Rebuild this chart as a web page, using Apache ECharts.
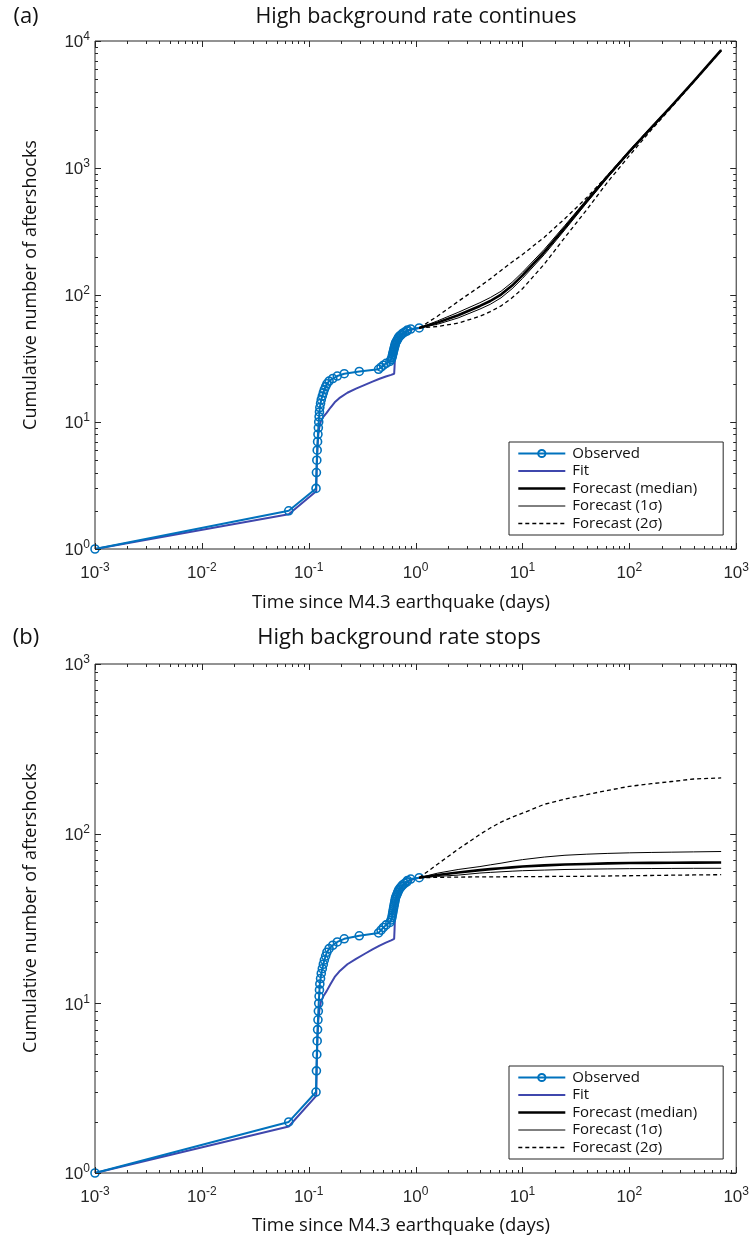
<!DOCTYPE html>
<html><head><meta charset="utf-8">
<script src="https://cdn.jsdelivr.net/npm/echarts@6/dist/echarts.min.js"></script>
<style>
html,body{margin:0;padding:0;background:#fff;}
#pa{position:absolute;left:0;top:0;width:752px;height:620px;}
#pb{position:absolute;left:0;top:620px;width:752px;height:619px;}
</style>
</head><body>
<div id="pa"></div><div id="pb"></div>
<script>
// ---------- tick labels ----------
const xTicks  = [0.001, 0.01, 0.1, 1, 10, 100, 1000];
const yTicksA = [1, 10, 100, 1000, 10000];
const yTicksB = [1, 10, 100, 1000];

// ---------- observed aftershocks (days, cumulative count) ----------
const obsT = [0.001, 0.065, 0.117, 0.118, 0.119, 0.120, 0.121, 0.122, 0.123, 0.124,
              0.125, 0.126, 0.127, 0.129, 0.131, 0.134, 0.137, 0.140, 0.144, 0.148,
              0.155, 0.168, 0.185, 0.215, 0.297, 0.450, 0.475, 0.500, 0.530, 0.575,
              0.590, 0.600, 0.605, 0.610, 0.615, 0.620, 0.625, 0.630, 0.635, 0.640,
              0.645, 0.650, 0.660, 0.670, 0.680, 0.690, 0.700, 0.720, 0.740, 0.760,
              0.790, 0.830, 0.840, 0.900, 1.080];
const obsN = [1, 2, 3, 4, 5, 6, 7, 8, 9, 10,
              11, 12, 13, 14, 15, 16, 17, 18, 19, 20,
              21, 22, 23, 24, 25, 26, 27, 28, 29, 30,
              31, 32, 33, 34, 35, 36, 37, 38, 39, 40,
              41, 42, 43, 44, 45, 46, 47, 48, 49, 50,
              51, 52, 53, 54, 55];

// ---------- model fit ----------
const fitT = [0.001, 0.065, 0.1175, 0.119, 0.121, 0.123, 0.126, 0.130, 0.137, 0.147,
              0.160, 0.175, 0.193, 0.230, 0.277, 0.335, 0.395, 0.460, 0.527, 0.590,
              0.630, 0.635, 0.640, 0.645, 0.650, 0.660, 0.680, 0.720, 0.780, 0.860,
              0.950, 1.080];
const fitN = [1, 1.88, 2.85, 4.5, 6.5, 8, 9.2, 10.2, 11.0, 11.8,
              13.0, 14.3, 15.4, 17.0, 18.3, 19.6, 20.8, 21.9, 22.8, 23.5,
              24.0, 27, 31, 35, 38, 41, 44, 47, 50, 52.5,
              54, 55];

// ---------- forecasts ----------
const fcT = [1.08, 1.6, 2.5, 4, 5, 6.3, 8, 10, 16, 25, 40, 63, 100, 160, 250, 400, 723];
// (a) high background rate continues
const medA = [55, 60.6, 69.3, 82, 89.7, 100.7, 118.6, 142.6, 218, 340, 550, 865, 1343, 2070, 3097, 4800, 8480];
const s1uA = [55, 62.5, 73, 87, 95.5, 107, 126, 151, 229, 354, 567, 885, 1368, 2100, 3130, 4840, 8540];
const s1lA = [55, 58.8, 66, 77.5, 84.5, 95, 112, 135, 208, 327, 533, 845, 1318, 2040, 3065, 4760, 8420];
const s2uA = [55, 68, 89, 117, 134, 156, 182, 208, 285, 400, 585, 880, 1360, 2085, 3110, 4820, 8500];
const s2lA = [55, 56.5, 60, 68, 74, 82, 95, 112, 175, 285, 470, 780, 1250, 1990, 3020, 4740, 8400];
// (b) high background rate stops
const medB = [55, 57, 59, 61, 61.8, 62.5, 63.3, 64, 65, 65.8, 66.3, 66.8, 67.1, 67.3, 67.4, 67.5, 67.6];
const s1uB = [55, 58.5, 61.5, 64, 65.5, 67, 68.8, 70.3, 72.8, 74.6, 75.7, 76.5, 77.1, 77.5, 77.8, 78.1, 78.5];
const s1lB = [55, 56, 57, 58.6, 59.1, 59.6, 60.1, 60.5, 61, 61.5, 61.8, 62, 62.2, 62.3, 62.4, 62.5, 62.5];
const s2uB = [55, 66, 81, 99, 108, 117, 125, 132, 149, 160, 170, 180, 190, 197, 203, 210, 213];
const s2lB = [55, 55.3, 55.5, 55.6, 55.65, 55.7, 55.75, 55.8, 55.9, 56, 56.1, 56.3, 56.5, 56.7, 56.9, 57.1, 57.3];

const names = ['Observed', 'Fit', 'Forecast (median)', 'Forecast (1\u03c3)', 'Forecast (2\u03c3)'];

// ---------- helpers ----------
const AX = '#262626';
const TXT = '"Open Sans", "Noto Sans", sans-serif';
const LW = { obs: 2, fit: 2, med: 2.6, s1: 1, s2: 1.3 };
function zip(a, b) { return a.map((v, i) => [v, b[i]]); }
function minorOf(majors) {
  const out = [];
  for (let i = 0; i < majors.length - 1; i++)
    for (let k = 2; k <= 9; k++) out.push(+(majors[i] * k).toPrecision(6));
  return out;
}
function powLabel(v) {
  const e = Math.round(Math.log10(v));
  return '{b|10}{s|' + e + '}';
}
const labelRich = {
  b: { fontFamily: 'Liberation Sans', fontSize: 17, color: AX, verticalAlign: 'bottom', lineHeight: 20 },
  s: { fontFamily: 'Liberation Sans', fontSize: 12, color: AX, verticalAlign: 'top', padding: [0, 0, 8, 0] }
};
function tickSeries(axis, values, len, ext) {
  return {
    type: 'custom', silent: true, clip: false, z: 6, xAxisIndex: 0, yAxisIndex: 0,
    data: values.map(v => axis === 'x' ? [v, ext[0]] : [ext[0], v]),
    renderItem: function (params, api) {
      const st = { stroke: AX, lineWidth: 1 };
      if (axis === 'x') {
        const v = api.value(0);
        const p1 = api.coord([v, ext[0]]), p2 = api.coord([v, ext[1]]);
        const x = Math.round(p1[0]) + 0.5;
        return { type: 'group', children: [
          { type: 'line', shape: { x1: x, y1: p1[1], x2: x, y2: p1[1] - len }, style: st },
          { type: 'line', shape: { x1: x, y1: p2[1], x2: x, y2: p2[1] + len }, style: st }
        ] };
      } else {
        const v = api.value(1);
        const p1 = api.coord([ext[0], v]), p2 = api.coord([ext[1], v]);
        const y = Math.round(p1[1]) + 0.5;
        return { type: 'group', children: [
          { type: 'line', shape: { x1: p1[0], y1: y, x2: p1[0] + len, y2: y }, style: st },
          { type: 'line', shape: { x1: p2[0], y1: y, x2: p2[0] - len, y2: y }, style: st }
        ] };
      }
    }
  };
}

function build(el, cfg) {
  const chart = echarts.init(document.getElementById(el), null, { renderer: 'canvas' });
  const xExt = [xTicks[0], xTicks[xTicks.length - 1]];
  const yExt = [cfg.yTicks[0], cfg.yTicks[cfg.yTicks.length - 1]];
  const fc = (name, data, w, dashed) => ({
    name: name, type: 'line', data: zip(fcT, data), showSymbol: false, symbol: 'none',
    lineStyle: { color: '#000', width: w, type: dashed ? [4, 3] : 'solid', join: 'round' },
    itemStyle: { color: '#000', opacity: 0 }, z: 4, silent: true
  });
  const option = {
    animation: false,
    grid: { left: 95, top: cfg.gridTop, width: 643, height: cfg.gridH, show: true,
            borderColor: AX, borderWidth: 1, backgroundColor: 'transparent' },
    xAxis: {
      type: 'log', logBase: 10, min: xExt[0], max: xExt[1], splitNumber: 6,
      axisLine: { show: false }, axisTick: { show: false }, splitLine: { show: false },
      axisLabel: { formatter: powLabel, rich: labelRich, margin: 13, showMinLabel: true, showMaxLabel: true }
    },
    yAxis: {
      type: 'log', logBase: 10, min: yExt[0], max: yExt[1], splitNumber: cfg.yTicks.length - 1,
      axisLine: { show: false }, axisTick: { show: false }, splitLine: { show: false },
      axisLabel: { formatter: powLabel, rich: labelRich, margin: 5, showMinLabel: true, showMaxLabel: true }
    },
    legend: {
      orient: 'vertical', left: 509, top: cfg.legTop, selectedMode: false,
      data: [
        { name: names[0], lineStyle: { width: LW.obs } },
        { name: names[1], lineStyle: { width: LW.fit } },
        { name: names[2], lineStyle: { width: LW.med } },
        { name: names[3], lineStyle: { width: LW.s1 } },
        { name: names[4], lineStyle: { width: LW.s2 } }
      ],
      backgroundColor: '#fff', borderColor: AX, borderWidth: 1, borderRadius: 0,
      padding: [4, 26, 4, 8], itemGap: 2.5, itemWidth: 47, itemHeight: 9,
      textStyle: { fontFamily: TXT, fontSize: 15, color: '#111', padding: [0, 0, 0, 2] }
    },
    graphic: [
      { type: 'text', x: 26, y: cfg.titleY, style: { text: cfg.tag, font: '22px ' + TXT, fill: '#111', align: 'center', verticalAlign: 'middle' } },
      { type: 'text', x: cfg.titleX, y: cfg.titleY, style: { text: cfg.title, font: cfg.titleFont + 'px ' + TXT, fill: '#111', align: 'center', verticalAlign: 'middle' } },
      { type: 'text', x: 401, y: cfg.xlabY, style: { text: 'Time since M4.3 earthquake (days)', font: '18.5px ' + TXT, fill: '#111', align: 'center', verticalAlign: 'middle' } },
      { type: 'text', x: 31, y: cfg.ylabY, rotation: Math.PI / 2, style: { text: 'Cumulative number of aftershocks', font: '18px ' + TXT, fill: '#111', align: 'center', verticalAlign: 'middle' } }
    ],
    series: [
      { name: 'Fit', type: 'line', data: zip(fitT, fitN), showSymbol: false, symbol: 'none',
        lineStyle: { color: '#3f47ad', width: LW.fit }, itemStyle: { color: '#3f47ad', opacity: 0 }, z: 2, silent: true },
      { name: 'Observed', type: 'line', data: zip(obsT, obsN), symbol: 'circle', symbolSize: 8, showSymbol: true,
        clip: false, lineStyle: { color: '#0072bd', width: LW.obs },
        itemStyle: { color: 'rgba(255,255,255,0)', borderColor: '#0072bd', borderWidth: 1.6 }, z: 3, silent: true },
      fc('Forecast (2\u03c3)', cfg.s2u, LW.s2, true),
      fc('Forecast (2\u03c3)', cfg.s2l, LW.s2, true),
      fc('Forecast (1\u03c3)', cfg.s1u, LW.s1, false),
      fc('Forecast (1\u03c3)', cfg.s1l, LW.s1, false),
      fc('Forecast (median)', cfg.med, LW.med, false),
      tickSeries('x', xTicks, 6, yExt),
      tickSeries('x', minorOf(xTicks), 3, yExt),
      tickSeries('y', cfg.yTicks, 6, xExt),
      tickSeries('y', minorOf(cfg.yTicks), 3, xExt)
    ]
  };
  chart.setOption(option);
}

build('pa', { yTicks: yTicksA, gridTop: 41, gridH: 508, legTop: 442, tag: '(a)', title: 'High background rate continues',
  titleX: 416, titleY: 17, titleFont: 21.5, xlabY: 603, ylabY: 285, med: medA, s1u: s1uA, s1l: s1lA, s2u: s2uA, s2l: s2lA });
build('pb', { yTicks: yTicksB, gridTop: 44, gridH: 509, legTop: 446, tag: '(b)', title: 'High background rate stops',
  titleX: 399, titleY: 18, titleFont: 22, xlabY: 606, ylabY: 288, med: medB, s1u: s1uB, s1l: s1lB, s2u: s2uB, s2l: s2lB });
</script>
</body></html>
